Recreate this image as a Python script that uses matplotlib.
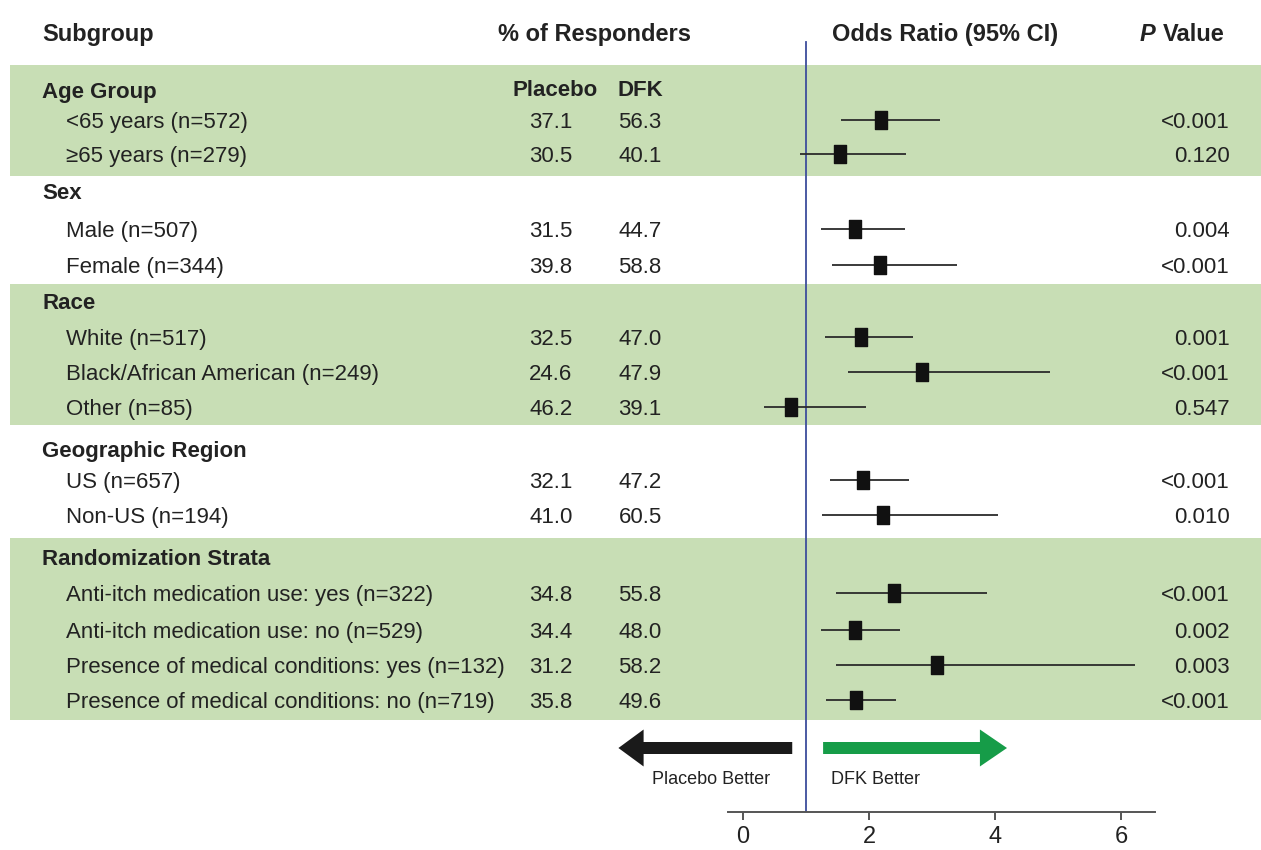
import numpy as np
import matplotlib.pyplot as plt
from matplotlib.path import Path

plt.rcParams["font.family"] = ["Liberation Sans Narrow", "Liberation Sans", "DejaVu Sans"]

# -------------------------------------------------------------------
# Data
# -------------------------------------------------------------------
group_names = ["Age Group", "Sex", "Race", "Geographic Region", "Randomization Strata"]

subgroup_labels = [
    "<65 years (n=572)",
    "\u226565 years (n=279)",
    "Male (n=507)",
    "Female (n=344)",
    "White (n=517)",
    "Black/African American (n=249)",
    "Other (n=85)",
    "US (n=657)",
    "Non-US (n=194)",
    "Anti-itch medication use: yes (n=322)",
    "Anti-itch medication use: no (n=529)",
    "Presence of medical conditions: yes (n=132)",
    "Presence of medical conditions: no (n=719)",
]

placebo_pct = [37.1, 30.5, 31.5, 39.8, 32.5, 24.6, 46.2, 32.1, 41.0, 34.8, 34.4, 31.2, 35.8]
dfk_pct = [56.3, 40.1, 44.7, 58.8, 47.0, 47.9, 39.1, 47.2, 60.5, 55.8, 48.0, 58.2, 49.6]

odds_ratio = [2.19, 1.54, 1.78, 2.18, 1.87, 2.84, 0.76, 1.90, 2.22, 2.39, 1.77, 3.08, 1.79]
ci_low = [1.56, 0.90, 1.23, 1.41, 1.30, 1.67, 0.33, 1.38, 1.25, 1.47, 1.24, 1.48, 1.31]
ci_high = [3.13, 2.59, 2.57, 3.40, 2.70, 4.87, 1.95, 2.63, 4.04, 3.88, 2.49, 6.23, 2.42]

p_values = ["<0.001", "0.120", "0.004", "<0.001", "0.001", "<0.001", "0.547",
            "<0.001", "0.010", "<0.001", "0.002", "0.003", "<0.001"]

x_ticks = [0, 2, 4, 6]

# -------------------------------------------------------------------
# Layout (pixel rows from top of a 1261 x 850 canvas)
# -------------------------------------------------------------------
W, H = 1261, 850
group_y = [90, 191, 301, 449, 557]
row_y = [120, 154, 229, 265, 337, 372, 407, 480, 515, 593, 630, 665, 700]
bands = [(65, 176), (284, 425), (538, 720)]

GREEN_BAND = "#c8deb5"
TEXT = "#222222"
FS = 16        # body text
FS_HEAD = 17   # column headers
VA = "center_baseline"

fig = plt.figure(figsize=(W / 100, H / 100), dpi=100)
bg = fig.add_axes([0, 0, 1, 1])
bg.set_xlim(0, W)
bg.set_ylim(H, 0)
bg.axis("off")

for top, bottom in bands:
    bg.axhspan(top, bottom, xmin=10 / W, xmax=1, color=GREEN_BAND, lw=0, zorder=0)

# Header row
bg.text(42, 32, "Subgroup", fontsize=FS_HEAD, fontweight="bold", color=TEXT, va=VA)
bg.text(595, 32, "% of Responders", fontsize=FS_HEAD, fontweight="bold", color=TEXT,
        va=VA, ha="center")
bg.text(945, 32, "Odds Ratio (95% CI)", fontsize=FS_HEAD, fontweight="bold", color=TEXT,
        va=VA, ha="center")
bg.text(1155, 32, "P", fontsize=FS_HEAD, fontweight="bold", style="italic", color=TEXT,
        va=VA, ha="right")
bg.text(1225, 32, "Value", fontsize=FS_HEAD, fontweight="bold", color=TEXT,
        va=VA, ha="right")

bg.text(555, 88, "Placebo", fontsize=FS, fontweight="bold", color=TEXT,
        va=VA, ha="center")
bg.text(640, 88, "DFK", fontsize=FS, fontweight="bold", color=TEXT,
        va=VA, ha="center")

for name, y in zip(group_names, group_y):
    bg.text(42, y, name, fontsize=FS, fontweight="bold", color=TEXT, va=VA)

for i, y in enumerate(row_y):
    bg.text(66, y, subgroup_labels[i], fontsize=FS, color=TEXT, va=VA)
    bg.text(551, y, f"{placebo_pct[i]:.1f}", fontsize=FS, color=TEXT,
            va=VA, ha="center")
    bg.text(640, y, f"{dfk_pct[i]:.1f}", fontsize=FS, color=TEXT,
            va=VA, ha="center")
    bg.text(1230, y, p_values[i], fontsize=FS, color=TEXT, va=VA, ha="right")

# -------------------------------------------------------------------
# Forest plot axes
# -------------------------------------------------------------------
ax_left, ax_right, ax_bottom = 728, 1155, 812
ax = fig.add_axes([ax_left / W, (H - ax_bottom) / H, (ax_right - ax_left) / W, ax_bottom / H])
ax.patch.set_alpha(0)
ax.set_xlim(-0.24, 6.54)
ax.set_ylim(ax_bottom, 0)

for s in ["top", "left", "right"]:
    ax.spines[s].set_visible(False)
ax.spines["bottom"].set_color("#555555")
ax.spines["bottom"].set_linewidth(1.4)
ax.set_yticks([])
ax.set_xticks(x_ticks)
ax.set_xticklabels([str(t) for t in x_ticks])
ax.tick_params(axis="x", length=6, width=1.4, color="#555555", labelsize=17,
               labelcolor=TEXT, pad=4)

ax.axvline(1, ymin=0, ymax=(ax_bottom - 42) / ax_bottom, color="#3d4d9c", lw=1.3, zorder=1)

rect_marker = Path([(-0.32, -0.5), (0.32, -0.5), (0.32, 0.5), (-0.32, 0.5), (-0.32, -0.5)],
                   [Path.MOVETO, Path.LINETO, Path.LINETO, Path.LINETO, Path.CLOSEPOLY])

ax.hlines(row_y, ci_low, ci_high, color="#2b2b2b", lw=1.3, zorder=2)
ax.plot(odds_ratio, row_y, linestyle="none", marker=rect_marker, markersize=13,
        color="#111111", zorder=3)

# Direction arrows
ax.arrow(0.78, 748, -2.76, 0, width=12, head_width=37, head_length=0.40,
         length_includes_head=True, color="#1a1a1a", lw=0, clip_on=False)
ax.arrow(1.27, 748, 2.92, 0, width=12, head_width=37, head_length=0.43,
         length_includes_head=True, color="#169c48", lw=0, clip_on=False)

bg.text(770, 777, "Placebo Better", fontsize=13, color=TEXT, va=VA, ha="right")
bg.text(831, 777, "DFK Better", fontsize=13, color=TEXT, va=VA, ha="left")

fig.savefig("out.png", dpi=100)
